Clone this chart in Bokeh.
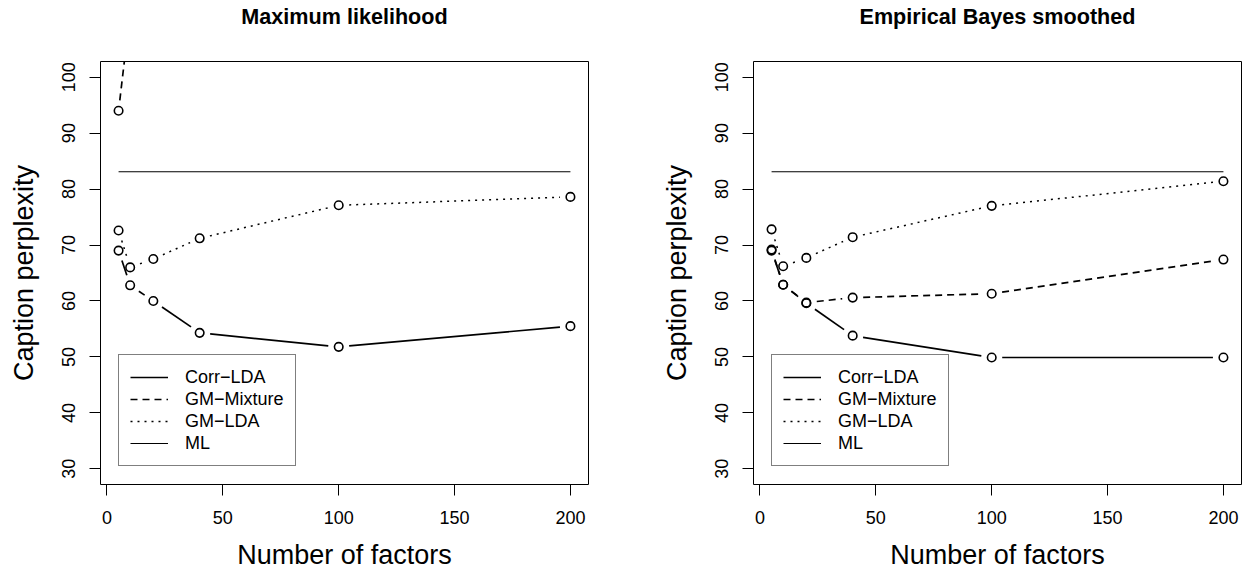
import math
from bokeh.plotting import figure
from bokeh.models import Range1d, FixedTicker, Legend, LegendItem, LinearAxis
from bokeh.layouts import row
from bokeh.embed import file_html
from bokeh.resources import INLINE

# ---------------- data ----------------
factors = [5, 10, 20, 40, 100, 200]
ml_corr_lda = [69.0, 62.8, 60.0, 54.3, 51.8, 55.5]
ml_gm_mixture = [94.0, 111.7, 122.0, 130.0, 140.0, 150.0]   # mostly above the plotted range
ml_gm_lda = [72.6, 66.0, 67.5, 71.2, 77.1, 78.6]
eb_corr_lda = [69.0, 62.9, 59.6, 53.8, 49.9, 49.9]
eb_gm_mixture = [69.2, 62.9, 59.7, 60.6, 61.3, 67.4]
eb_gm_lda = [72.8, 66.2, 67.7, 71.4, 77.0, 81.4]
ml_baseline = 83.1
y_limits = [30, 100]
x_ticks = [0, 50, 100, 150, 200]
y_ticks = [30, 40, 50, 60, 70, 80, 90, 100]
legend_labels = ["Corr\u2212LDA", "GM\u2212Mixture", "GM\u2212LDA", "ML"]
legend_anchor = [5, 50]
titles = ["Maximum likelihood", "Empirical Bayes smoothed"]
x_title = "Number of factors"
y_title = "Caption perplexity"

FONT = "Liberation Sans"
FRAME_W = 488
FRAME_H = 423
FIG_H = 575
TOP = 61
BOTTOM = FIG_H - TOP - FRAME_H
GAP = 10.5

x_lo = min(factors) - 0.04 * (max(factors) - min(factors))
x_hi = max(factors) + 0.04 * (max(factors) - min(factors))
y_lo = y_limits[0] - 0.04 * (y_limits[1] - y_limits[0])
y_hi = y_limits[1] + 0.04 * (y_limits[1] - y_limits[0])
SX = FRAME_W / (x_hi - x_lo)
SY = FRAME_H / (y_hi - y_lo)


def gapped(xs, ys):
    gx, gy = [], []
    for i in range(len(xs) - 1):
        ddx = xs[i + 1] - xs[i]
        ddy = ys[i + 1] - ys[i]
        L = math.hypot(ddx * SX, ddy * SY)
        if L <= 2 * GAP:
            continue
        t = GAP / L
        gx.append([xs[i] + ddx * t, xs[i + 1] - ddx * t])
        gy.append([ys[i] + ddy * t, ys[i + 1] - ddy * t])
    return gx, gy


def panel(title, corr, mix, lda, width, left, right):
    p = figure(width=width, height=FIG_H, output_backend="svg", toolbar_location=None,
               x_range=Range1d(x_lo, x_hi), y_range=Range1d(y_lo, y_hi),
               min_border_left=left, min_border_right=right,
               min_border_top=TOP, min_border_bottom=BOTTOM,
               x_axis_label=x_title, y_axis_label=y_title)
    p.background_fill_color = "white"
    p.border_fill_color = "white"
    p.outline_line_color = "black"
    p.outline_line_width = 1
    p.xgrid.visible = False
    p.ygrid.visible = False

    xa = p.below[0]
    ya = p.left[0]
    for ax in (xa, ya):
        ax.axis_line_color = "black"
        ax.axis_line_width = 1
        ax.major_tick_line_color = "black"
        ax.major_tick_line_width = 1
        ax.major_tick_out = 11
        ax.major_tick_in = 0
        ax.minor_tick_line_color = None
        ax.major_label_text_font = FONT
        ax.major_label_text_font_size = "18px"
        ax.major_label_text_color = "black"
        ax.axis_label_text_font = FONT
        ax.axis_label_text_font_size = "27px"
        ax.axis_label_text_font_style = "normal"
        ax.axis_label_text_color = "black"
    xa.ticker = FixedTicker(ticks=x_ticks, minor_ticks=[])
    ya.ticker = FixedTicker(ticks=y_ticks, minor_ticks=[])
    xa.bounds = (x_ticks[0], x_ticks[-1])
    ya.bounds = (y_ticks[0], y_ticks[-1])
    xa.major_label_standoff = 15
    xa.axis_label_standoff = 13
    ya.major_label_standoff = 14
    ya.axis_label_standoff = 21
    ya.major_label_orientation = "vertical"

    # title drawn as the label of an otherwise empty axis above the frame
    top_axis = LinearAxis(ticker=FixedTicker(ticks=[], minor_ticks=[]), axis_label=title,
                          axis_line_color=None, major_tick_line_color=None,
                          minor_tick_line_color=None, major_tick_out=0, major_tick_in=0,
                          major_label_text_font_size="0px", major_label_standoff=0,
                          axis_label_standoff=33, axis_label_text_font=FONT,
                          axis_label_text_font_size="21.6px", axis_label_text_font_style="bold",
                          axis_label_text_color="black")
    p.add_layout(top_axis, "above")

    styles = [(corr, "solid", 1.7), (mix, "7 5", 1.7), (lda, "2 5", 1.5)]
    rends = []
    for vals, dash, lw in styles:
        gx, gy = gapped(factors, vals)
        r = p.multi_line(xs=gx, ys=gy, line_color="black", line_width=lw, line_dash=dash)
        rends.append(r)
        p.scatter(factors, vals, marker="circle", size=8.5, fill_color=None,
                  line_color="black", line_width=1.6)
    r_ml = p.line([min(factors), max(factors)], [ml_baseline, ml_baseline],
                  line_color="black", line_width=1.1)
    rends.append(r_ml)

    leg_h = 2 * 11 + 4 * 22
    lx = (legend_anchor[0] - x_lo) * SX
    ly = (legend_anchor[1] - y_lo) * SY - leg_h
    legend = Legend(items=[LegendItem(label=lab, renderers=[r]) for lab, r in zip(legend_labels, rends)],
                    location=(lx, ly), padding=11, spacing=0, label_height=22, glyph_height=22,
                    glyph_width=38, label_standoff=17, margin=0,
                    border_line_color="black", border_line_width=1,
                    background_fill_color="white", background_fill_alpha=1,
                    label_text_font=FONT, label_text_font_size="18px", label_text_color="black")
    p.add_layout(legend)
    return p


W1 = 650
W2 = 1244 - W1
p1 = panel(titles[0], ml_corr_lda, ml_gm_mixture, ml_gm_lda, W1, 100, W1 - 100 - FRAME_W)
p2 = panel(titles[1], eb_corr_lda, eb_gm_mixture, eb_gm_lda, W2, 753 - W1, W2 - (753 - W1) - FRAME_W)

layout = row(p1, p2)
open("out.html", "w").write(file_html(layout, INLINE))
